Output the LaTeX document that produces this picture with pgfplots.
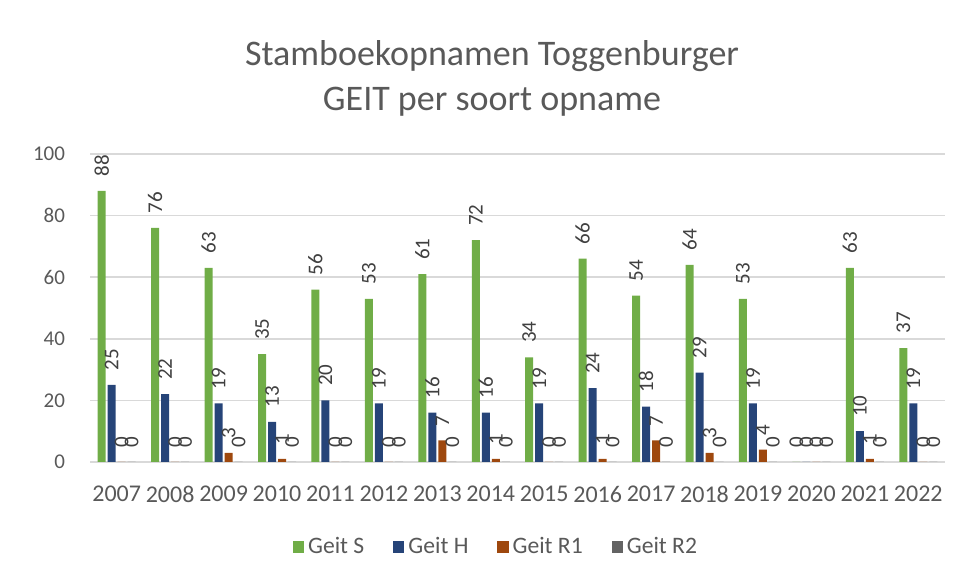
\documentclass[border=0pt]{standalone}
\usepackage{pgfplots}
\pgfplotsset{compat=1.18}
\usepackage{fontspec}
\setmainfont{Carlito}

\definecolor{geitS}{HTML}{70AD47}
\definecolor{geitH}{HTML}{264478}
\definecolor{geitRa}{HTML}{9E480E}
\definecolor{geitRb}{HTML}{636363}
\definecolor{txtgray}{HTML}{595959}
\definecolor{lblgray}{HTML}{404040}
\definecolor{gridgray}{HTML}{D9D9D9}

\begin{document}
\begin{tikzpicture}
\path (0,0) rectangle (480.5pt,291pt);
\node[align=center, text=txtgray, font=\fontsize{18}{22.5}\selectfont]
  at (246pt,252pt) {Stamboekopnamen Toggenburger\\GEIT per soort opname};
\begin{axis}[
    at={(45pt,60pt)}, anchor=south west,
    scale only axis, width=427.5pt, height=154pt,
    ybar=1pt, bar width=4pt,
    xmin=-0.5, xmax=15.5,
    ymin=0, ymax=100,
    xtick={0,...,15},
    xticklabels={2007,2008,2009,2010,2011,2012,2013,2014,2015,2016,2017,2018,2019,2020,2021,2022},
    ytick={0,20,40,60,80,100},
    axis line style={draw=none},
    major tick length=0pt,
    ymajorgrids=true,
    grid style={draw=gridgray, line width=0.75pt},
    /pgf/number format/assume math mode=true,
    xticklabel style={font=\fontsize{12}{12}\selectfont, text=txtgray, yshift=-8.5pt},
    yticklabel style={font=\fontsize{10.5}{10.5}\selectfont, text=txtgray, xshift=-9pt},
    clip=false,
    nodes near coords,
    every node near coord/.append style={rotate=90, anchor=west,
        font=\fontsize{10.5}{10.5}\selectfont, text=lblgray, inner xsep=7pt, inner ysep=1pt},
    legend columns=4,
    legend style={at={(0.476,-0.276)}, anchor=center, draw=none,
        font=\fontsize{11.8}{11.8}\selectfont, text=txtgray,
        /tikz/every odd column/.append style={column sep=0pt},
        /tikz/every even column/.append style={column sep=12.5pt}},
    legend image code/.code={\fill[#1,draw=none] (0pt,-2.8pt) rectangle (5.6pt,2.8pt);},
]
\addplot[fill=geitS, draw=none] coordinates {
(0,88)(1,76)(2,63)(3,35)(4,56)(5,53)(6,61)(7,72)(8,34)(9,66)(10,54)(11,64)(12,53)(13,0)(14,63)(15,37)};
\addlegendentry{Geit S}
\addplot[fill=geitH, draw=none] coordinates {
(0,25)(1,22)(2,19)(3,13)(4,20)(5,19)(6,16)(7,16)(8,19)(9,24)(10,18)(11,29)(12,19)(13,0)(14,10)(15,19)};
\addlegendentry{Geit H}
\addplot[fill=geitRa, draw=none] coordinates {
(0,0)(1,0)(2,3)(3,1)(4,0)(5,0)(6,7)(7,1)(8,0)(9,1)(10,7)(11,3)(12,4)(13,0)(14,1)(15,0)};
\addlegendentry{Geit R1}
\addplot[fill=geitRb, draw=none] coordinates {
(0,0)(1,0)(2,0)(3,0)(4,0)(5,0)(6,0)(7,0)(8,0)(9,0)(10,0)(11,0)(12,0)(13,0)(14,0)(15,0)};
\addlegendentry{Geit R2}
\end{axis}
\end{tikzpicture}
\end{document}
